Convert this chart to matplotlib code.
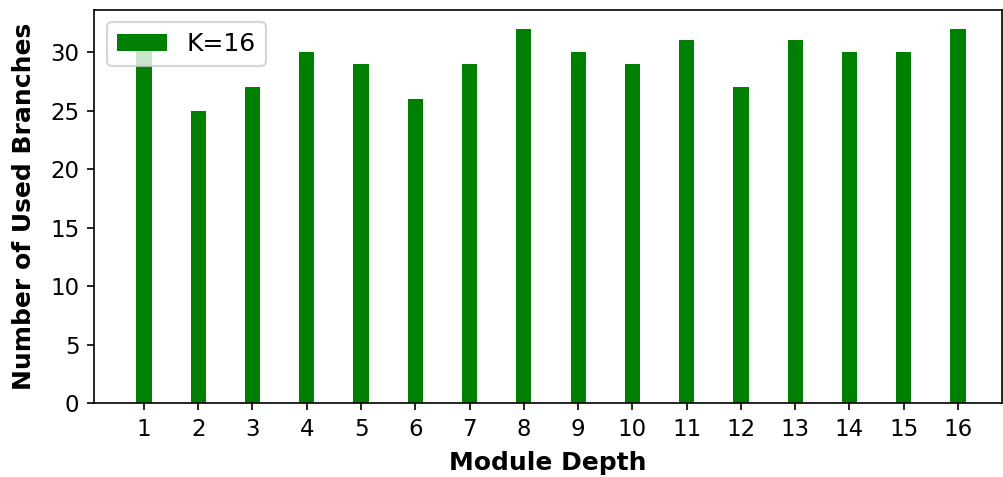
import matplotlib
matplotlib.use("Agg")
import matplotlib.pyplot as plt

depths = list(range(1, 17))
branches = [31, 25, 27, 30, 29, 26, 29, 32, 30, 29, 31, 27, 31, 30, 30, 32]

W, H = 1003, 477
fig = plt.figure(figsize=(W / 150, H / 150), dpi=150)
ax = fig.add_axes([94 / W, 74 / H, 908 / W, 393 / H])

ax.bar(depths, branches, width=0.28, color="green", label="K=16")
ax.set_xticks(depths)
ax.set_xlim(0.08, 16.81)
ax.set_ylim(0, 33.6)
ax.tick_params(labelsize=11)
ax.set_xlabel("Module Depth", fontsize=12, fontweight="bold", labelpad=5)
ax.set_ylabel("Number of Used Branches", fontsize=12, fontweight="bold", labelpad=7)
ax.legend(loc="upper left", fontsize=12)

fig.savefig("out.png", dpi=150)
